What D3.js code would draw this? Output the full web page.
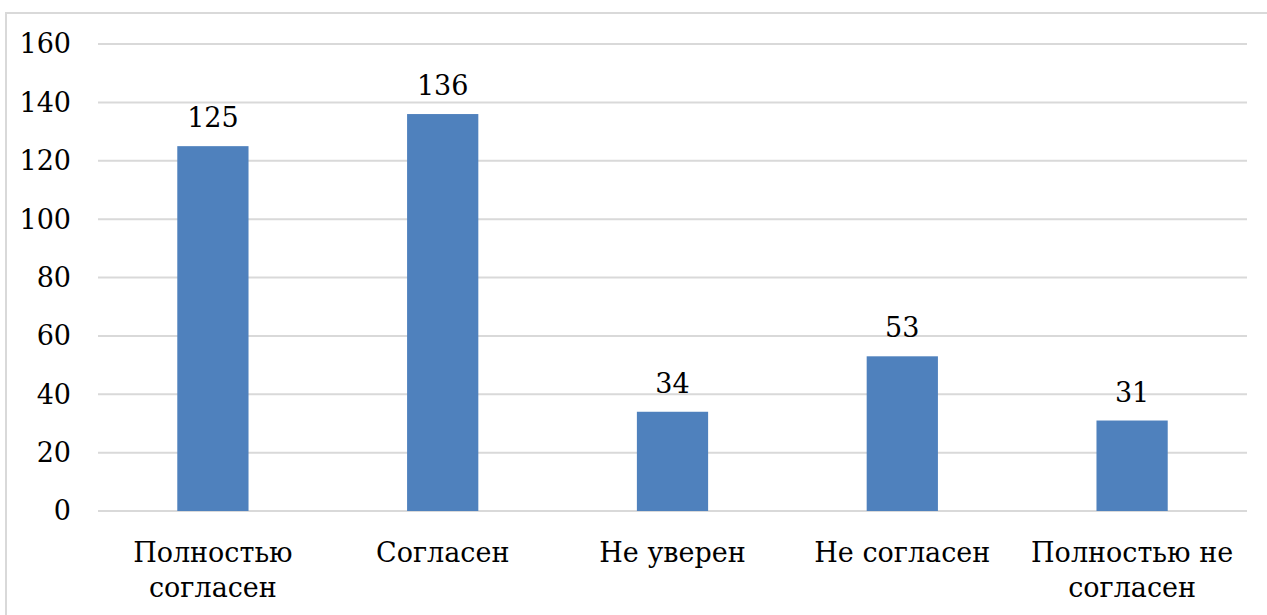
<!DOCTYPE html>
<html>
<head>
<meta charset="utf-8">
<script src="https://cdn.jsdelivr.net/npm/d3@7"></script>
<style>
  body { margin: 0; background: #fff; }
</style>
</head>
<body>
<div id="chart-area"></div>
<script>
const categories = [["Полностью", "согласен"], ["Согласен"], ["Не уверен"], ["Не согласен"], ["Полностью не", "согласен"]];
const values = [125, 136, 34, 53, 31];
const yTicks = [0, 20, 40, 60, 80, 100, 120, 140, 160];

const width = 1267, height = 615;
const margin = { top: 44, right: 20, bottom: 104, left: 98 };
const font = "'DejaVu Serif', 'Liberation Serif', serif";

const svg = d3.select("#chart-area")
    .append("svg")
    .attr("width", width)
    .attr("height", height)
    .attr("font-family", font);

// outer chart border (runs off the right and bottom edges)
svg.append("rect")
    .attr("x", 6).attr("y", 13)
    .attr("width", 1400).attr("height", 800)
    .attr("fill", "none")
    .attr("stroke", "#d9d9d9")
    .attr("stroke-width", 2);

const x = d3.scaleBand()
    .domain(d3.range(values.length))
    .range([margin.left, 1247])
    .paddingInner(0.69)
    .paddingOuter(0.345);

const y = d3.scaleLinear()
    .domain([0, 160])
    .range([511, margin.top]);

// gridlines
svg.append("g")
    .selectAll("line")
    .data(yTicks)
    .join("line")
    .attr("x1", margin.left)
    .attr("x2", 1247)
    .attr("y1", d => y(d))
    .attr("y2", d => y(d))
    .attr("stroke", "#d9d9d9")
    .attr("stroke-width", 2);

// y tick labels
svg.append("g")
    .selectAll("text")
    .data(yTicks)
    .join("text")
    .attr("x", 71)
    .attr("y", d => y(d))
    .attr("dy", "0.35em")
    .attr("text-anchor", "end")
    .attr("font-family", font)
    .attr("font-size", 27)
    .attr("fill", "#000")
    .text(d => d);

// bars
svg.append("g")
    .selectAll("rect")
    .data(values)
    .join("rect")
    .attr("x", (d, i) => x(i))
    .attr("y", d => y(d))
    .attr("width", x.bandwidth())
    .attr("height", d => y(0) - y(d))
    .attr("fill", "#4f81bd");

// value labels
svg.append("g")
    .selectAll("text")
    .data(values)
    .join("text")
    .attr("x", (d, i) => x(i) + x.bandwidth() / 2)
    .attr("y", d => y(d) - 19)
    .attr("text-anchor", "middle")
    .attr("font-family", font)
    .attr("font-size", 27)
    .attr("fill", "#000")
    .text(d => d);

// category labels
svg.append("g")
    .selectAll("text")
    .data(categories)
    .join("text")
    .attr("x", (d, i) => x(i) + x.bandwidth() / 2)
    .attr("y", 562)
    .attr("text-anchor", "middle")
    .attr("font-family", font)
    .attr("font-size", 27)
    .attr("fill", "#000")
    .each(function(d) {
        const t = d3.select(this);
        d.forEach((line, j) => {
            t.append("tspan")
                .attr("x", t.attr("x"))
                .attr("dy", j === 0 ? 0 : 35)
                .text(line);
        });
    });
</script>
</body>
</html>
